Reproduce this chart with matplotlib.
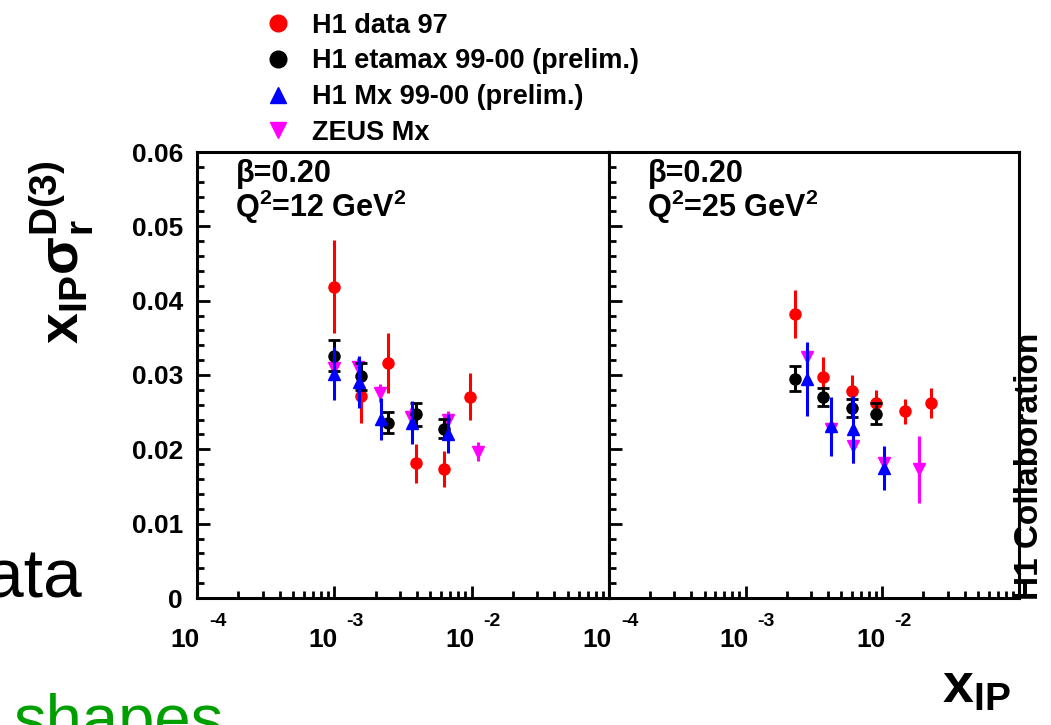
import math
import matplotlib
matplotlib.use("Agg")
import matplotlib.pyplot as plt
from matplotlib.lines import Line2D
from matplotlib.transforms import blended_transform_factory
from matplotlib.ticker import FixedLocator, LogLocator, FuncFormatter, MultipleLocator, NullFormatter

# ---------------------------------------------------------------
# data: x_IP, x_IP*sigma_r^D(3), error    (beta = 0.20)
# ---------------------------------------------------------------
# Q^2 = 12 GeV^2
red_x_l = [1.0e-3, 1.56e-3, 2.45e-3, 3.92e-3, 6.26e-3, 9.7e-3]
red_y_l = [0.0419, 0.0272, 0.0316, 0.0181, 0.0174, 0.0271]
red_e_l = [0.0063, 0.0037, 0.0040, 0.0026, 0.0024, 0.0032]

black_x_l = [1.0e-3, 1.56e-3, 2.45e-3, 3.92e-3, 6.26e-3]
black_y_l = [0.0326, 0.0298, 0.0236, 0.0247, 0.0228]
black_e_l = [0.0021, 0.0018, 0.0014, 0.0015, 0.0013]

blue_x_l = [1.0e-3, 1.51e-3, 2.18e-3, 3.66e-3, 6.69e-3]
blue_y_l = [0.0302, 0.0290, 0.0241, 0.0236, 0.0221]
blue_e_l = [0.0036, 0.0035, 0.0028, 0.0029, 0.0026]

zeus_x_l = [1.0e-3, 1.48e-3, 2.14e-3, 3.6e-3, 6.69e-3, 1.12e-2]
zeus_y_l = [0.0310, 0.0311, 0.0276, 0.0244, 0.0240, 0.0197]
zeus_e_l = [0.0010, 0.0012, 0.0012, 0.0012, 0.0012, 0.0013]

# Q^2 = 25 GeV^2
red_x_r = [2.30e-3, 3.67e-3, 5.96e-3, 9.06e-3, 1.47e-2, 2.27e-2]
red_y_r = [0.0382, 0.0297, 0.0278, 0.0262, 0.0251, 0.0262]
red_e_r = [0.0032, 0.0027, 0.0022, 0.0018, 0.0017, 0.0020]

black_x_r = [2.30e-3, 3.67e-3, 5.96e-3, 9.06e-3]
black_y_r = [0.0295, 0.0270, 0.0256, 0.0248]
black_e_r = [0.0017, 0.0012, 0.0012, 0.0014]

blue_x_r = [2.81e-3, 4.2e-3, 6.07e-3, 1.02e-2]
blue_y_r = [0.0295, 0.0231, 0.0227, 0.0175]
blue_e_r = [0.0050, 0.0040, 0.0045, 0.0030]

zeus_x_r = [2.81e-3, 4.2e-3, 6.07e-3, 1.02e-2, 1.85e-2]
zeus_y_r = [0.0324, 0.0227, 0.0204, 0.0182, 0.0173]
zeus_e_r = [0.0012, 0.0012, 0.0022, 0.0015, 0.0045]

labels = ["H1 data 97", "H1 etamax 99-00 (prelim.)", "H1 Mx 99-00 (prelim.)", "ZEUS Mx"]
panel_text = [("β=0.20", "Q$^{2}$=12 GeV$^{2}$"), ("β=0.20", "Q$^{2}$=25 GeV$^{2}$")]
x_decades = [1e-4, 1e-3, 1e-2]

RED, BLACK, BLUE, MAGENTA = "#ff0000", "#000000", "#0000ff", "#ff00ff"

plt.rcParams["font.family"] = ["Liberation Sans", "DejaVu Sans"]
plt.rcParams["font.weight"] = "bold"
plt.rcParams["mathtext.fontset"] = "custom"
plt.rcParams["mathtext.rm"] = "Liberation Sans:bold"
plt.rcParams["mathtext.it"] = "Liberation Sans:bold"
plt.rcParams["mathtext.bf"] = "Liberation Sans:bold"
plt.rcParams["mathtext.default"] = "rm"

W, H = 1051, 725
fig = plt.figure(figsize=(W / 100, H / 100), dpi=100)

ax1 = fig.add_axes([197 / W, (H - 598) / H, 412 / W, 446 / H])
ax2 = fig.add_axes([609 / W, (H - 598) / H, 410 / W, 446 / H])


def draw(ax, rx, ry, re, kx, ky, ke, bx, by, be, zx, zy, ze):
    ax.errorbar(zx, zy, yerr=ze, fmt="v", color=MAGENTA, ms=9, elinewidth=2.2, capsize=0, zorder=2)
    ax.errorbar(rx, ry, yerr=re, fmt="o", color=RED, ms=8, elinewidth=2.2, capsize=0, zorder=3)
    ax.errorbar(kx, ky, yerr=ke, fmt="o", color=BLACK, ms=8, elinewidth=2.2,
                capsize=4, capthick=2, zorder=4)
    ax.errorbar(bx, by, yerr=be, fmt="^", color=BLUE, ms=9, elinewidth=2.2, capsize=0, zorder=5)


draw(ax1, red_x_l, red_y_l, red_e_l, black_x_l, black_y_l, black_e_l,
     blue_x_l, blue_y_l, blue_e_l, zeus_x_l, zeus_y_l, zeus_e_l)
draw(ax2, red_x_r, red_y_r, red_e_r, black_x_r, black_y_r, black_e_r,
     blue_x_r, blue_y_r, blue_e_r, zeus_x_r, zeus_y_r, zeus_e_r)

for i, ax in enumerate([ax1, ax2]):
    ax.set_xscale("log")
    ax.set_xlim(1e-4, 1e-1)
    ax.set_ylim(0, 0.06)
    for s in ax.spines.values():
        s.set_linewidth(2.2)
    ax.xaxis.set_major_locator(FixedLocator(x_decades))
    ax.xaxis.set_minor_locator(LogLocator(base=10, subs=range(2, 10), numticks=20))
    ax.xaxis.set_major_formatter(NullFormatter())
    ax.xaxis.set_minor_formatter(NullFormatter())
    ax.yaxis.set_major_locator(MultipleLocator(0.01))
    ax.yaxis.set_minor_locator(MultipleLocator(0.002))
    ax.tick_params(which="both", direction="in", top=False, right=False, width=2)
    ax.tick_params(which="major", length=9)
    ax.tick_params(which="minor", length=5)
    ax.tick_params(axis="y", which="major", labelsize=19, pad=10)

    # ROOT style "10 ^-n" labels under each decade
    tr = blended_transform_factory(ax.transData, ax.transAxes)
    for d in x_decades:
        ax.annotate("10", xy=(d, 0), xycoords=tr, xytext=(3, -30), textcoords="offset pixels",
                    ha="right", va="top", fontsize=19, annotation_clip=False)
        ax.annotate(str(round(math.log10(d))), xy=(d, 0), xycoords=tr, xytext=(12, -15),
                    textcoords="offset pixels", ha="left", va="top", fontsize=14,
                    annotation_clip=False)

    b, q = panel_text[i]
    ax.text(0.095, 0.933, b, transform=ax.transAxes, fontsize=22, va="baseline", ha="left")
    ax.text(0.092, 0.854, q, transform=ax.transAxes, fontsize=22, va="baseline", ha="left")

ax1.yaxis.set_major_formatter(FuncFormatter(lambda v, p: "0" if abs(v) < 1e-9 else f"{v:.2f}"))
ax2.yaxis.set_major_formatter(NullFormatter())

# legend (markers only)
handles = [Line2D([], [], ls="none", marker="o", color=RED, ms=12),
           Line2D([], [], ls="none", marker="o", color=BLACK, ms=12),
           Line2D([], [], ls="none", marker="^", color=BLUE, ms=12),
           Line2D([], [], ls="none", marker="v", color=MAGENTA, ms=12)]
fig.legend(handles, labels, loc="upper left", bbox_to_anchor=(251 / W, 1 + 1 / H),
           frameon=False, fontsize=19.5, handlelength=1.0, handletextpad=0.75,
           labelspacing=0.36, borderpad=0.0)

# axis titles
fig.text(62 / W, 1 - 252 / H, r"$x_{IP}\sigma_{r}^{D(3)}$", rotation=90,
         fontsize=40, ha="center", va="center")
fig.text(976 / W, 1 - 688 / H, r"$x_{IP}$", fontsize=40, ha="center", va="center")
fig.text(1029 / W, 1 - 600 / H, "H1 Collaboration", rotation=90, fontsize=24,
         ha="center", va="bottom")

# leftovers from the slide underneath
fig.text(82 / W, 1 - 598 / H, "ata", fontsize=50, weight="normal", ha="right",
         va="baseline", color="#000000")
fig.text(13 / W, 1 - 740 / H, "shapes", fontsize=47, weight="normal", ha="left",
         va="baseline", color="#009f00")

fig.savefig("out.png", dpi=100)
